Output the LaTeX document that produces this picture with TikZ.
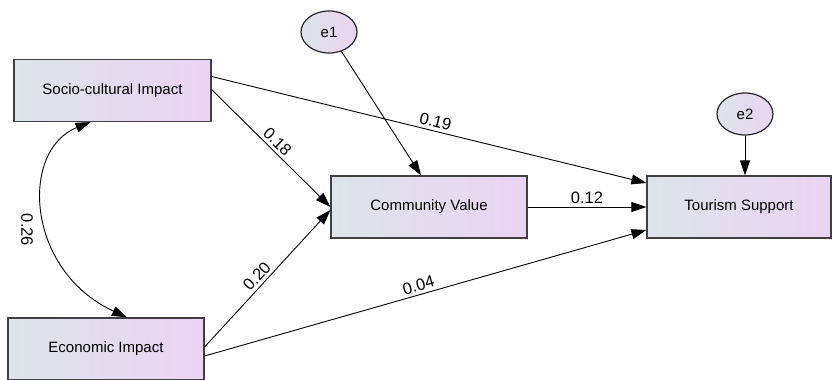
\documentclass[tikz,border=0pt]{standalone}
\usepackage{fontspec}
\setmainfont{Liberation Sans}
\usetikzlibrary{arrows.meta,shapes.geometric}
\definecolor{boxleft}{HTML}{DCE5E9}
\definecolor{boxright}{HTML}{EBD3F3}
\tikzset{
  var/.style={draw=black!75,line width=1.2pt,left color=boxleft,right color=boxright,
    minimum height=62pt,inner sep=0pt,font=\fontsize{15}{16}\selectfont},
  err/.style={ellipse,draw=black!85,line width=1.2pt,left color=boxleft,right color=boxright,
    minimum width=56pt,minimum height=42pt,inner sep=0pt,font=\fontsize{15}{16}\selectfont},
  path/.style={line width=0.9pt,-{Triangle[length=15pt,width=10pt]}},
  coef/.style={font=\fontsize{16.5}{17}\selectfont,sloped,above,inner sep=3pt}
}
\begin{document}
\begin{tikzpicture}[x=1pt,y=-1pt]
  \useasboundingbox (0,0) rectangle (833,380);
  \draw
    (112.5,90.5) node[var,minimum width=197pt] (soc){Socio-cultural Impact}
    (106,349) node[var,minimum width=196pt] (eco){Economic Impact}
    (429,207) node[var,minimum width=196pt] (com){Community Value}
    (739,207) node[var,minimum width=184pt] (tour){Tourism Support}
    (329,32) node[err] (e1){e1}
    (745,114) node[err] (e2){e2};
  \begin{scope}[path]
    \draw ([yshift=14pt]soc.east) to node[coef,pos=0.51]{0.19} ([yshift=24pt]tour.west);
    \draw ([yshift=1pt]soc.east) to node[coef,pos=0.5]{0.18} (com.west);
    \draw ([yshift=2pt]eco.east) to node[coef,pos=0.47]{0.20} ([yshift=-3pt]com.west);
    \draw ([yshift=-7pt]eco.east) to node[coef,pos=0.49]{0.04} ([yshift=-23pt]tour.west);
    \draw (com.east) to node[coef,pos=0.5]{0.12} (tour.west);
    \draw (e1) to ([xshift=-8pt]com.north);
    \draw (e2) to ([xshift=6pt]tour.north);
  \end{scope}
  \draw[line width=0.9pt,{Triangle[length=15pt,width=10pt]}-{Triangle[length=15pt,width=10pt]}]
    ([xshift=-22pt]soc.south) .. controls (20,150) and (25,270) .. ([xshift=21pt]eco.north);
  \node[font=\fontsize{16.5}{17}\selectfont,rotate=-90] (cov) at (27,230) {0.26};
\end{tikzpicture}
\end{document}
